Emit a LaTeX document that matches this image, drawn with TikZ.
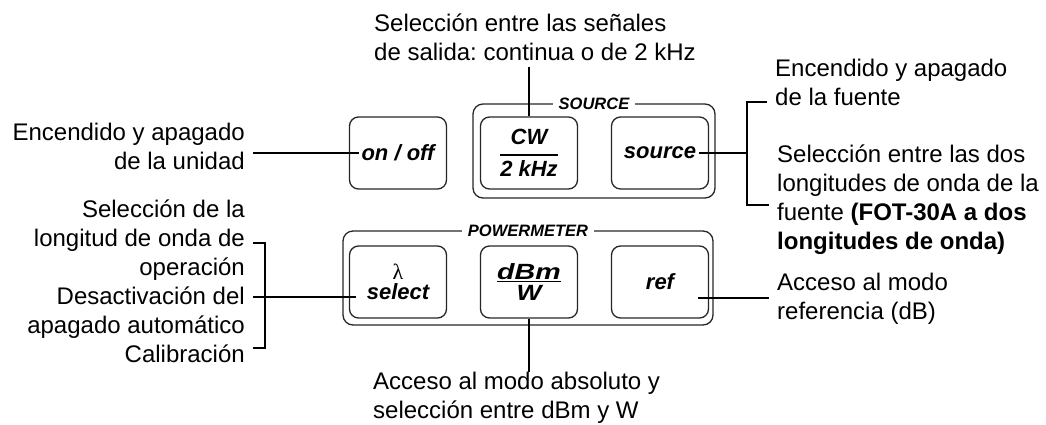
\documentclass[tikz,border=0pt]{standalone}
\usepackage{fontspec}
\setmainfont{Liberation Sans}
\newfontfamily\grkfont{Liberation Serif}
\frenchspacing

% stacked key legend: top / bar / bottom
\newcommand{\keyfrac}[4]{{\renewcommand{\arraystretch}{0}\setlength{\arrayrulewidth}{1.6pt}%
  \begin{tabular}{@{}c@{}}#1\rule[-#3]{0pt}{0pt}\\\hline\rule{0pt}{#4}#2\end{tabular}}}

\begin{document}
\begin{tikzpicture}[x=1pt, y=-1pt,
    lbl/.style={font=\fontsize{24}{29}\selectfont, inner xsep=8pt, inner ysep=0pt},
    key/.style={draw=black!85, line width=1.3pt, rounded corners=9pt, minimum width=97pt, minimum height=72pt, inner sep=0pt, align=center, font=\fontsize{22}{26}\selectfont\bfseries\itshape},
    group/.style={draw=black!85, line width=1.3pt, rounded corners=10pt, minimum height=94pt},
    grouptitle/.style={fill=white, inner xsep=6pt, inner ysep=1pt, font=\fontsize{16.5}{18}\selectfont\bfseries\itshape},
    lead/.style={line width=1.5pt}
]
\useasboundingbox (0,0) rectangle (1046,424);

% Panel groups
\node[group, minimum width=242pt] (srcgrp) at (594,151) {};
\node[group, minimum width=370pt] (pwrgrp) at (528,278) {};
\node[grouptitle] (srctitle) at (srcgrp.north) {SOURCE};
\node[grouptitle] (pwrtitle) at (pwrgrp.north) {POWERMETER};

% Keys
\node[key] (onoff) at (398,153) {on / off};
\node[key] (cw) at (529,153) {\keyfrac{CW}{2 kHz}{10pt}{21pt}};
\node[key] (src) at (660,153) {source};
\node[key] (sel) at (398,282) {{\grkfont\mdseries\upshape\fontsize{22}{22}\selectfont λ}\\[-6pt]select};
\node[key] (dbm) at (529,282) {\keyfrac{\scalebox{1.3}[1]{dBm}}{\scalebox{1.2}[1]{W}}{1pt}{18pt}};
\node[key] (ref) at (660,282) {ref};

% Labels
\node[lbl, align=right, anchor=east] (unitlbl) at (253,146) {Encendido y apagado\\de la unidad};
\node[lbl, align=right, anchor=east] (sellbl) at (253,281.5) {Selección de la\\longitud de onda de\\operación\\Desactivación del\\apagado automático\\Calibración};
\node[lbl, align=left, anchor=west] (toplbl) at (366,37.5) {Selección entre las señales\\de salida: continua o de 2 kHz};
\node[lbl, align=left, anchor=west] (fuentelbl) at (767,82.5) {Encendido y apagado\\de la fuente};
\node[lbl, align=left, anchor=west] (dosondas) at (769,199.5) {Selección entre las dos\\longitudes de onda de la\\fuente \textbf{(FOT-30A a dos}\\\textbf{longitudes de onda)}};
\node[lbl, align=left, anchor=west] (reflbl) at (769,299) {Acceso al modo\\referencia (dB)};
\node[lbl, align=left, anchor=west] (abslbl) at (365,397.5) {Acceso al modo absoluto y\\selección entre dBm y W};

% Bracket corners
\coordinate (rtop) at (747,102);
\coordinate (rbot) at (747,205);
\coordinate (ltop) at (265,243);
\coordinate (lbot) at (265,348);
\coordinate (selin) at ([xshift=7pt,yshift=-15pt]sel.west);
\coordinate (refin) at ([xshift=-11pt,yshift=-16pt]ref.east);

% Leader lines
\draw[lead] (unitlbl.east |- onoff) -- ([xshift=10pt]onoff.west);
\draw[lead, shorten >=6pt] (cw.north) -- (cw.north |- toplbl.south);
\draw[lead] ([xshift=-10pt]src.east) -- (src -| rtop);
\draw[lead] (rtop -| fuentelbl.west) -- (rtop) -- (rbot) -- (rbot -| dosondas.west);
\draw[lead] (ltop -| sellbl.east) -- (ltop) -- (lbot) -- (lbot -| sellbl.east);
\draw[lead] (sellbl.east |- selin) -- (selin);
\draw[lead] (refin) -- (refin -| reflbl.west);
\draw[lead] (dbm.south) -- (dbm.south |- abslbl.north);
\end{tikzpicture}
\end{document}
